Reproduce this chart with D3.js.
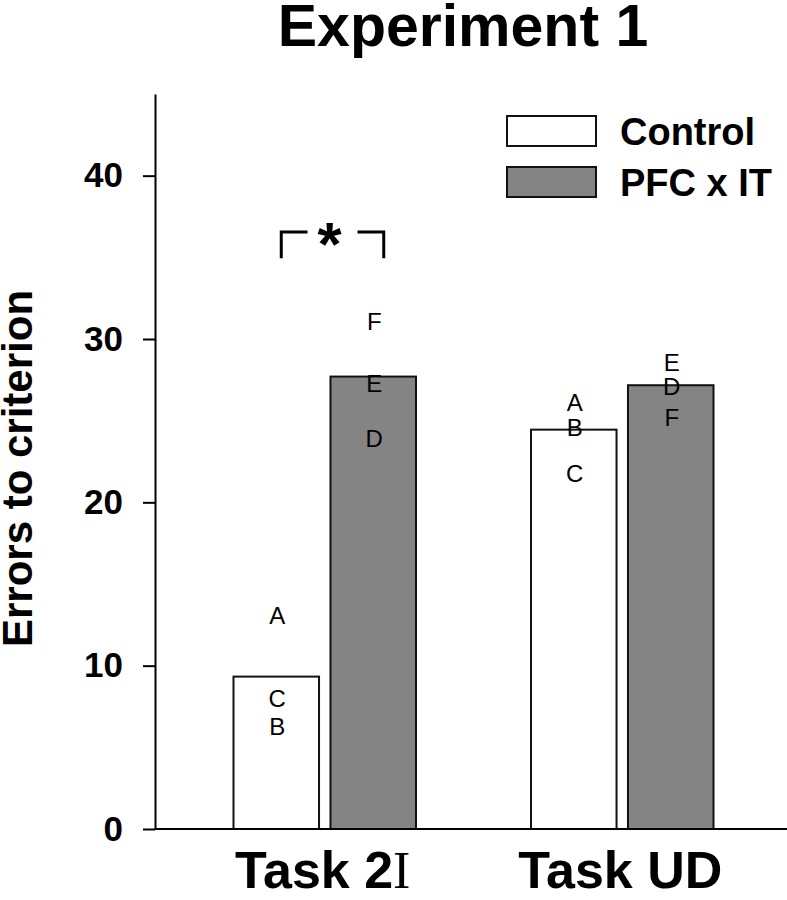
<!DOCTYPE html>
<html><head><meta charset="utf-8">
<script src="https://cdn.jsdelivr.net/npm/d3@7"></script>
<style>body{margin:0;background:#fff} svg{display:block;font-family:"Liberation Sans",Arial,sans-serif}</style>
</head><body>
<svg id="chart" width="787" height="900"></svg>
<script>
// ---- data ----
const tasks = ["Task 2I", "Task UD"];
const groups = ["Control", "PFC x IT"];
const controlMeans = [9.33, 24.45];
const pfcMeans = [27.7, 27.17];
const controlSubjects = ["A", "B", "C"];
const control2I = [13.1, 6.3, 8.0];
const controlUD = [26.1, 24.6, 21.8];
const pfcSubjects = ["D", "E", "F"];
const pfc2I = [23.9, 27.3, 31.1];
const pfcUD = [27.1, 28.6, 25.2];
const yTicks = [0, 10, 20, 30, 40];
const yMax = 45;
const sigTask = "Task 2I";
const sigTop = 36.55;
const sigBottom = 34.95;
const title = "Experiment 1";
const yTitle = "Errors to criterion";

// ---- layout ----
const svg = d3.select("#chart");
const y = d3.scaleLinear().domain([0, yMax]).range([829, 94]);
const x = d3.scalePoint().domain(tasks).range([160, 787]).padding(0.5538);
const sub = d3.scaleBand().domain(groups).range([-91.25, 91.25]).paddingInner(0.118);
const fills = {"Control": "#ffffff", "PFC x IT": "#848484"};

const means = {"Control": controlMeans, "PFC x IT": pfcMeans};
const bars = [];
tasks.forEach((t, i) => groups.forEach(g => bars.push({task: t, group: g, value: means[g][i]})));

const subjects = [];
const subjTable = [
  {group: "Control", task: tasks[0], names: controlSubjects, vals: control2I},
  {group: "Control", task: tasks[1], names: controlSubjects, vals: controlUD},
  {group: "PFC x IT", task: tasks[0], names: pfcSubjects, vals: pfc2I},
  {group: "PFC x IT", task: tasks[1], names: pfcSubjects, vals: pfcUD}
];
subjTable.forEach(s => s.names.forEach((n, k) => subjects.push({group: s.group, task: s.task, name: n, value: s.vals[k]})));

// title
svg.append("text").attr("x", 463).attr("y", 46).attr("text-anchor", "middle")
  .attr("font-size", 59).attr("font-weight", "bold").text(title);

// y axis
const yAxis = d3.axisLeft(y).tickValues(yTicks).tickSize(12).tickSizeOuter(0).tickPadding(20);
const gy = svg.append("g").attr("transform", "translate(155,0)").call(yAxis);
gy.select(".domain").attr("stroke", "#000").attr("stroke-width", 2);
gy.selectAll(".tick line").attr("stroke", "#000").attr("stroke-width", 2);
gy.selectAll(".tick text").attr("font-size", 35).attr("font-weight", "bold")
  .attr("font-family", "'Liberation Sans',Arial,sans-serif").attr("fill", "#000");

// y title
svg.append("text").attr("transform", `translate(32,${(y(0)+y(yMax))/2 + 7}) rotate(-90)`)
  .attr("text-anchor", "middle").attr("font-size", 42).attr("font-weight", "bold").text(yTitle);

// bars
svg.append("g").selectAll("rect").data(bars).join("rect")
  .attr("x", d => x(d.task) + sub(d.group))
  .attr("y", d => y(d.value))
  .attr("width", sub.bandwidth())
  .attr("height", d => y(0) - y(d.value))
  .attr("fill", d => fills[d.group])
  .attr("stroke", "#111").attr("stroke-width", 2);

// x axis baseline
const xAxis = d3.axisBottom(x).tickSize(0).tickFormat("");
const gx = svg.append("g").attr("transform", `translate(0,${y(0)})`).call(xAxis);
gx.select(".domain").attr("d", `M155,0H787`).attr("stroke", "#000").attr("stroke-width", 2);

// x labels with serif I in "2I"
tasks.forEach(t => {
  const tx = svg.append("text").attr("x", x(t) - 2).attr("y", 888).attr("text-anchor", "middle")
    .attr("font-size", 52).attr("font-weight", "bold");
  const m = t.match(/^(.*\d)(I)$/);
  if (m) {
    tx.append("tspan").text(m[1]);
    tx.append("tspan").attr("font-family", "'Liberation Serif','Times New Roman',serif")
      .attr("font-weight", "normal").text(m[2]);
  } else {
    tx.text(t);
  }
});

// subject letters
svg.append("g").selectAll("text").data(subjects).join("text")
  .attr("x", d => x(d.task) + sub(d.group) + sub.bandwidth() / 2 + 1)
  .attr("y", d => y(d.value))
  .attr("dy", "0.36em")
  .attr("text-anchor", "middle").attr("font-size", 24).text(d => d.name);

// significance bracket
const cL = x(sigTask) + sub(groups[0]) + sub.bandwidth() / 2 + 5;
const cR = x(sigTask) + sub(groups[1]) + sub.bandwidth() / 2 + 10.5;
const cM = (cL + cR) / 2;
const br = svg.append("g").attr("fill", "none").attr("stroke", "#000").attr("stroke-width", 3);
br.append("path").attr("d", `M${cL},${y(sigBottom)}V${y(sigTop)}H${cM - 25}`);
br.append("path").attr("d", `M${cR},${y(sigBottom)}V${y(sigTop)}H${cM + 25}`);
svg.append("text").attr("x", cM - 3).attr("y", y(sigTop) + 33).attr("text-anchor", "middle")
  .attr("font-size", 62).attr("font-weight", "bold").text("*");

// legend
const legend = svg.append("g");
groups.forEach((g, i) => {
  const ly = [116, 167][i];
  legend.append("rect").attr("x", 507).attr("y", ly).attr("width", 89).attr("height", 30)
    .attr("fill", fills[g]).attr("stroke", "#111").attr("stroke-width", 2);
  legend.append("text").attr("x", 620).attr("y", ly + 29).attr("font-size", 38)
    .attr("font-weight", "bold").text(g);
});
</script>
</body></html>
